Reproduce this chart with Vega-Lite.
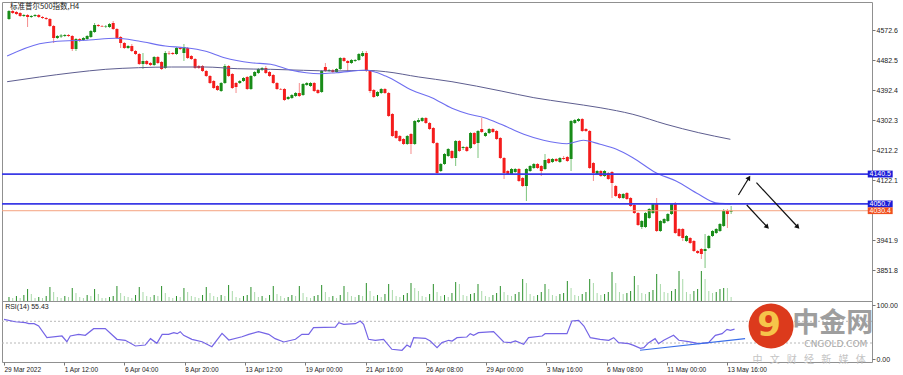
{
"$schema": "https://vega.github.io/schema/vega-lite/v6.json",
"background": "white",
"padding": {"left": 0, "top": 1, "right": 0, "bottom": 0},
"spacing": 0,
"bounds": "flush",
"config": {
  "view": {"stroke": "#909090", "strokeWidth": 1},
  "axis": {"labelFont": "Liberation Sans", "labelFontSize": 7, "labelColor": "#222222", "tickColor": "#777777", "tickSize": 3, "domain": false, "grid": false, "labelOverlap": false, "labelSeparation": 0}
},
"datasets": {
"candles": [
{"i":0,"o":4605.6,"h":4632.6,"l":4602.6,"c":4629.6,"v":4},
{"i":1,"o":4629.6,"h":4632.6,"l":4620.6,"c":4623.6,"v":3},
{"i":2,"o":4626.6,"h":4629.6,"l":4617.6,"c":4620.6,"v":5},
{"i":3,"o":4623.6,"h":4626.6,"l":4611.6,"c":4614.6,"v":3},
{"i":4,"o":4614.6,"h":4620.6,"l":4611.6,"c":4617.6,"v":6},
{"i":5,"o":4617.6,"h":4620.6,"l":4581.6,"c":4611.6,"v":12},
{"i":6,"o":4611.6,"h":4617.6,"l":4608.6,"c":4614.6,"v":7},
{"i":7,"o":4614.6,"h":4620.6,"l":4611.6,"c":4617.6,"v":3},
{"i":8,"o":4617.6,"h":4620.6,"l":4608.6,"c":4611.6,"v":4},
{"i":9,"o":4611.6,"h":4614.6,"l":4605.6,"c":4608.6,"v":3},
{"i":10,"o":4608.6,"h":4611.6,"l":4602.6,"c":4605.6,"v":5},
{"i":11,"o":4605.6,"h":4608.6,"l":4581.6,"c":4584.6,"v":14},
{"i":12,"o":4584.6,"h":4587.6,"l":4533.6,"c":4548.6,"v":9},
{"i":13,"o":4548.6,"h":4557.6,"l":4545.6,"c":4554.6,"v":4},
{"i":14,"o":4553.1,"h":4560.6,"l":4548.6,"c":4556.1,"v":3},
{"i":15,"o":4554.6,"h":4560.6,"l":4551.6,"c":4557.6,"v":5},
{"i":16,"o":4557.6,"h":4560.6,"l":4551.6,"c":4554.6,"v":4},
{"i":17,"o":4554.6,"h":4557.6,"l":4509.6,"c":4515.6,"v":13},
{"i":18,"o":4515.6,"h":4548.6,"l":4509.6,"c":4545.6,"v":8},
{"i":19,"o":4545.6,"h":4548.6,"l":4536.6,"c":4542.6,"v":4},
{"i":20,"o":4542.6,"h":4551.6,"l":4539.6,"c":4548.6,"v":3},
{"i":21,"o":4545.6,"h":4557.6,"l":4542.6,"c":4554.6,"v":6},
{"i":22,"o":4551.6,"h":4572.6,"l":4548.6,"c":4569.6,"v":5},
{"i":23,"o":4566.6,"h":4593.6,"l":4563.6,"c":4587.6,"v":12},
{"i":24,"o":4587.6,"h":4590.6,"l":4581.6,"c":4584.6,"v":7},
{"i":25,"o":4584.6,"h":4587.6,"l":4581.6,"c":4583.1,"v":3},
{"i":26,"o":4583.1,"h":4587.6,"l":4578.6,"c":4584.6,"v":3},
{"i":27,"o":4581.6,"h":4593.6,"l":4578.6,"c":4590.6,"v":4},
{"i":28,"o":4593.6,"h":4599.6,"l":4572.6,"c":4575.6,"v":5},
{"i":29,"o":4575.6,"h":4578.6,"l":4545.6,"c":4548.6,"v":15},
{"i":30,"o":4551.6,"h":4554.6,"l":4518.6,"c":4533.6,"v":8},
{"i":31,"o":4533.6,"h":4536.6,"l":4515.6,"c":4518.6,"v":5},
{"i":32,"o":4518.6,"h":4527.6,"l":4515.6,"c":4524.6,"v":4},
{"i":33,"o":4524.6,"h":4530.6,"l":4506.6,"c":4509.6,"v":3},
{"i":34,"o":4509.6,"h":4512.6,"l":4497.6,"c":4500.6,"v":6},
{"i":35,"o":4500.6,"h":4503.6,"l":4467.6,"c":4470.6,"v":14},
{"i":36,"o":4470.6,"h":4503.6,"l":4455.6,"c":4479.6,"v":9},
{"i":37,"o":4479.6,"h":4482.6,"l":4467.6,"c":4470.6,"v":5},
{"i":38,"o":4473.6,"h":4476.6,"l":4464.6,"c":4467.6,"v":4},
{"i":39,"o":4467.6,"h":4494.6,"l":4464.6,"c":4491.6,"v":6},
{"i":40,"o":4491.6,"h":4494.6,"l":4470.6,"c":4473.6,"v":5},
{"i":41,"o":4476.6,"h":4479.6,"l":4452.6,"c":4455.6,"v":15},
{"i":42,"o":4458.6,"h":4509.6,"l":4455.6,"c":4503.6,"v":8},
{"i":43,"o":4503.6,"h":4509.6,"l":4497.6,"c":4502.1,"v":4},
{"i":44,"o":4503.6,"h":4506.6,"l":4497.6,"c":4500.6,"v":3},
{"i":45,"o":4500.6,"h":4521.6,"l":4497.6,"c":4518.6,"v":5},
{"i":46,"o":4518.6,"h":4521.6,"l":4512.6,"c":4515.6,"v":4},
{"i":47,"o":4503.6,"h":4530.6,"l":4479.6,"c":4521.6,"v":13},
{"i":48,"o":4518.6,"h":4521.6,"l":4485.6,"c":4488.6,"v":9},
{"i":49,"o":4494.6,"h":4497.6,"l":4482.6,"c":4485.6,"v":5},
{"i":50,"o":4485.6,"h":4488.6,"l":4455.6,"c":4458.6,"v":4},
{"i":51,"o":4464.6,"h":4467.6,"l":4455.6,"c":4458.6,"v":3},
{"i":52,"o":4464.6,"h":4467.6,"l":4446.6,"c":4449.6,"v":6},
{"i":53,"o":4449.6,"h":4452.6,"l":4431.6,"c":4434.6,"v":14},
{"i":54,"o":4434.6,"h":4437.6,"l":4410.6,"c":4413.6,"v":8},
{"i":55,"o":4419.6,"h":4422.6,"l":4395.6,"c":4398.6,"v":5},
{"i":56,"o":4404.6,"h":4407.6,"l":4389.6,"c":4392.6,"v":4},
{"i":57,"o":4389.6,"h":4416.6,"l":4386.6,"c":4413.6,"v":6},
{"i":58,"o":4413.6,"h":4470.6,"l":4410.6,"c":4464.6,"v":5},
{"i":59,"o":4464.6,"h":4467.6,"l":4431.6,"c":4434.6,"v":16},
{"i":60,"o":4440.6,"h":4443.6,"l":4395.6,"c":4398.6,"v":10},
{"i":61,"o":4413.6,"h":4416.6,"l":4383.6,"c":4401.6,"v":4},
{"i":62,"o":4413.6,"h":4422.6,"l":4410.6,"c":4419.6,"v":3},
{"i":63,"o":4419.6,"h":4431.6,"l":4416.6,"c":4428.6,"v":5},
{"i":64,"o":4431.6,"h":4434.6,"l":4392.6,"c":4395.6,"v":6},
{"i":65,"o":4395.6,"h":4437.6,"l":4392.6,"c":4434.6,"v":14},
{"i":66,"o":4434.6,"h":4449.6,"l":4431.6,"c":4446.6,"v":9},
{"i":67,"o":4443.6,"h":4458.6,"l":4440.6,"c":4455.6,"v":4},
{"i":68,"o":4452.6,"h":4461.6,"l":4449.6,"c":4458.6,"v":5},
{"i":69,"o":4458.6,"h":4464.6,"l":4440.6,"c":4443.6,"v":3},
{"i":70,"o":4446.6,"h":4449.6,"l":4431.6,"c":4434.6,"v":6},
{"i":71,"o":4437.6,"h":4440.6,"l":4410.6,"c":4413.6,"v":15},
{"i":72,"o":4413.6,"h":4416.6,"l":4392.6,"c":4395.6,"v":7},
{"i":73,"o":4395.6,"h":4398.6,"l":4392.6,"c":4394.1,"v":5},
{"i":74,"o":4395.6,"h":4398.6,"l":4359.6,"c":4362.6,"v":3},
{"i":75,"o":4365.6,"h":4374.6,"l":4362.6,"c":4371.6,"v":4},
{"i":76,"o":4368.6,"h":4380.6,"l":4365.6,"c":4377.6,"v":6},
{"i":77,"o":4374.6,"h":4386.6,"l":4371.6,"c":4383.6,"v":5},
{"i":78,"o":4383.6,"h":4413.6,"l":4371.6,"c":4374.6,"v":15},
{"i":79,"o":4377.6,"h":4413.6,"l":4374.6,"c":4410.6,"v":8},
{"i":80,"o":4407.6,"h":4416.6,"l":4404.6,"c":4413.6,"v":4},
{"i":81,"o":4404.6,"h":4416.6,"l":4401.6,"c":4413.6,"v":3},
{"i":82,"o":4413.6,"h":4416.6,"l":4386.6,"c":4389.6,"v":5},
{"i":83,"o":4392.6,"h":4395.6,"l":4380.6,"c":4383.6,"v":6},
{"i":84,"o":4386.6,"h":4452.6,"l":4383.6,"c":4449.6,"v":16},
{"i":85,"o":4461.6,"h":4473.6,"l":4446.6,"c":4449.6,"v":9},
{"i":86,"o":4449.6,"h":4455.6,"l":4446.6,"c":4452.6,"v":4},
{"i":87,"o":4452.6,"h":4455.6,"l":4443.6,"c":4446.6,"v":5},
{"i":88,"o":4446.6,"h":4458.6,"l":4443.6,"c":4455.6,"v":3},
{"i":89,"o":4455.6,"h":4491.6,"l":4452.6,"c":4488.6,"v":6},
{"i":90,"o":4488.6,"h":4491.6,"l":4476.6,"c":4479.6,"v":15},
{"i":91,"o":4479.6,"h":4482.6,"l":4449.6,"c":4473.6,"v":9},
{"i":92,"o":4473.6,"h":4485.6,"l":4470.6,"c":4482.6,"v":5},
{"i":93,"o":4479.6,"h":4485.6,"l":4476.6,"c":4482.6,"v":4},
{"i":94,"o":4482.6,"h":4503.6,"l":4479.6,"c":4500.6,"v":6},
{"i":95,"o":4494.6,"h":4509.6,"l":4491.6,"c":4503.6,"v":5},
{"i":96,"o":4503.6,"h":4509.6,"l":4446.6,"c":4449.6,"v":18},
{"i":97,"o":4449.6,"h":4452.6,"l":4383.6,"c":4389.6,"v":10},
{"i":98,"o":4392.6,"h":4395.6,"l":4368.6,"c":4371.6,"v":5},
{"i":99,"o":4374.6,"h":4389.6,"l":4371.6,"c":4386.6,"v":6},
{"i":100,"o":4383.6,"h":4398.6,"l":4380.6,"c":4395.6,"v":4},
{"i":101,"o":4395.6,"h":4398.6,"l":4380.6,"c":4383.6,"v":7},
{"i":102,"o":4383.6,"h":4386.6,"l":4311.6,"c":4314.6,"v":17},
{"i":103,"o":4320.6,"h":4323.6,"l":4251.6,"c":4254.6,"v":11},
{"i":104,"o":4269.6,"h":4272.6,"l":4245.6,"c":4248.6,"v":5},
{"i":105,"o":4254.6,"h":4257.6,"l":4236.6,"c":4239.6,"v":4},
{"i":106,"o":4245.6,"h":4248.6,"l":4227.6,"c":4230.6,"v":6},
{"i":107,"o":4230.6,"h":4257.6,"l":4227.6,"c":4254.6,"v":8},
{"i":108,"o":4260.6,"h":4263.6,"l":4200.6,"c":4230.6,"v":18},
{"i":109,"o":4230.6,"h":4302.6,"l":4227.6,"c":4299.6,"v":13},
{"i":110,"o":4296.6,"h":4308.6,"l":4293.6,"c":4302.6,"v":10},
{"i":111,"o":4299.6,"h":4311.6,"l":4296.6,"c":4308.6,"v":5},
{"i":112,"o":4308.6,"h":4311.6,"l":4290.6,"c":4293.6,"v":4},
{"i":113,"o":4293.6,"h":4296.6,"l":4272.6,"c":4275.6,"v":7},
{"i":114,"o":4278.6,"h":4281.6,"l":4230.6,"c":4233.6,"v":17},
{"i":115,"o":4233.6,"h":4236.6,"l":4140.6,"c":4143.6,"v":9},
{"i":116,"o":4149.6,"h":4173.6,"l":4146.6,"c":4170.6,"v":5},
{"i":117,"o":4170.6,"h":4203.6,"l":4167.6,"c":4200.6,"v":6},
{"i":118,"o":4194.6,"h":4218.6,"l":4191.6,"c":4215.6,"v":4},
{"i":119,"o":4209.6,"h":4212.6,"l":4185.6,"c":4188.6,"v":8},
{"i":120,"o":4188.6,"h":4242.6,"l":4164.6,"c":4239.6,"v":19},
{"i":121,"o":4239.6,"h":4242.6,"l":4206.6,"c":4209.6,"v":17},
{"i":122,"o":4218.6,"h":4224.6,"l":4212.6,"c":4221.6,"v":6},
{"i":123,"o":4221.6,"h":4224.6,"l":4206.6,"c":4209.6,"v":5},
{"i":124,"o":4218.6,"h":4266.6,"l":4215.6,"c":4263.6,"v":7},
{"i":125,"o":4263.6,"h":4266.6,"l":4227.6,"c":4230.6,"v":8},
{"i":126,"o":4233.6,"h":4272.6,"l":4188.6,"c":4269.6,"v":17},
{"i":127,"o":4275.6,"h":4308.6,"l":4263.6,"c":4266.6,"v":10},
{"i":128,"o":4254.6,"h":4266.6,"l":4251.6,"c":4263.6,"v":5},
{"i":129,"o":4263.6,"h":4278.6,"l":4260.6,"c":4275.6,"v":4},
{"i":130,"o":4275.6,"h":4278.6,"l":4263.6,"c":4266.6,"v":6},
{"i":131,"o":4269.6,"h":4272.6,"l":4242.6,"c":4245.6,"v":8},
{"i":132,"o":4248.6,"h":4251.6,"l":4185.6,"c":4188.6,"v":15},
{"i":133,"o":4188.6,"h":4191.6,"l":4125.6,"c":4143.6,"v":9},
{"i":134,"o":4149.6,"h":4152.6,"l":4137.6,"c":4140.6,"v":6},
{"i":135,"o":4140.6,"h":4158.6,"l":4137.6,"c":4155.6,"v":5},
{"i":136,"o":4146.6,"h":4158.6,"l":4143.6,"c":4155.6,"v":7},
{"i":137,"o":4155.6,"h":4158.6,"l":4116.6,"c":4119.6,"v":9},
{"i":138,"o":4128.6,"h":4131.6,"l":4101.6,"c":4104.6,"v":22},
{"i":139,"o":4104.6,"h":4158.6,"l":4059.6,"c":4155.6,"v":18},
{"i":140,"o":4149.6,"h":4167.6,"l":4146.6,"c":4164.6,"v":7},
{"i":141,"o":4158.6,"h":4173.6,"l":4155.6,"c":4170.6,"v":5},
{"i":142,"o":4170.6,"h":4173.6,"l":4155.6,"c":4158.6,"v":6},
{"i":143,"o":4164.6,"h":4167.6,"l":4134.6,"c":4149.6,"v":9},
{"i":144,"o":4155.6,"h":4200.6,"l":4152.6,"c":4182.6,"v":17},
{"i":145,"o":4185.6,"h":4188.6,"l":4170.6,"c":4173.6,"v":12},
{"i":146,"o":4176.6,"h":4188.6,"l":4173.6,"c":4185.6,"v":6},
{"i":147,"o":4185.6,"h":4188.6,"l":4176.6,"c":4179.6,"v":5},
{"i":148,"o":4176.6,"h":4191.6,"l":4173.6,"c":4188.6,"v":7},
{"i":149,"o":4188.6,"h":4194.6,"l":4182.6,"c":4185.6,"v":8},
{"i":150,"o":4191.6,"h":4194.6,"l":4176.6,"c":4179.6,"v":20},
{"i":151,"o":4185.6,"h":4302.6,"l":4149.6,"c":4299.6,"v":13},
{"i":152,"o":4293.6,"h":4305.6,"l":4290.6,"c":4302.6,"v":6},
{"i":153,"o":4299.6,"h":4308.6,"l":4296.6,"c":4305.6,"v":5},
{"i":154,"o":4305.6,"h":4308.6,"l":4266.6,"c":4269.6,"v":7},
{"i":155,"o":4275.6,"h":4278.6,"l":4266.6,"c":4269.6,"v":9},
{"i":156,"o":4269.6,"h":4272.6,"l":4155.6,"c":4158.6,"v":22},
{"i":157,"o":4173.6,"h":4176.6,"l":4119.6,"c":4143.6,"v":18},
{"i":158,"o":4140.6,"h":4152.6,"l":4137.6,"c":4149.6,"v":8},
{"i":159,"o":4149.6,"h":4152.6,"l":4131.6,"c":4134.6,"v":6},
{"i":160,"o":4134.6,"h":4152.6,"l":4131.6,"c":4149.6,"v":7},
{"i":161,"o":4143.6,"h":4146.6,"l":4122.6,"c":4125.6,"v":9},
{"i":162,"o":4146.6,"h":4149.6,"l":4068.6,"c":4113.6,"v":29},
{"i":163,"o":4104.6,"h":4107.6,"l":4071.6,"c":4074.6,"v":18},
{"i":164,"o":4080.6,"h":4083.6,"l":4065.6,"c":4068.6,"v":9},
{"i":165,"o":4068.6,"h":4083.6,"l":4065.6,"c":4080.6,"v":7},
{"i":166,"o":4083.6,"h":4086.6,"l":4062.6,"c":4065.6,"v":8},
{"i":167,"o":4068.6,"h":4071.6,"l":4041.6,"c":4044.6,"v":10},
{"i":168,"o":4047.6,"h":4050.6,"l":4020.6,"c":4023.6,"v":25},
{"i":169,"o":4023.6,"h":4026.6,"l":3984.6,"c":3987.6,"v":16},
{"i":170,"o":3981.6,"h":4002.6,"l":3975.6,"c":3999.6,"v":8},
{"i":171,"o":3981.6,"h":4026.6,"l":3978.6,"c":4023.6,"v":7},
{"i":172,"o":4008.6,"h":4038.6,"l":4005.6,"c":4035.6,"v":9},
{"i":173,"o":4023.6,"h":4053.6,"l":4020.6,"c":4050.6,"v":11},
{"i":174,"o":4050.6,"h":4068.6,"l":3966.6,"c":3969.6,"v":27},
{"i":175,"o":3969.6,"h":4002.6,"l":3966.6,"c":3999.6,"v":17},
{"i":176,"o":3993.6,"h":4008.6,"l":3990.6,"c":4005.6,"v":9},
{"i":177,"o":3999.6,"h":4023.6,"l":3996.6,"c":4020.6,"v":8},
{"i":178,"o":4020.6,"h":4053.6,"l":4017.6,"c":4050.6,"v":10},
{"i":179,"o":4050.6,"h":4056.6,"l":3960.6,"c":3963.6,"v":12},
{"i":180,"o":3975.6,"h":3978.6,"l":3951.6,"c":3954.6,"v":30},
{"i":181,"o":3975.6,"h":3978.6,"l":3939.6,"c":3948.6,"v":22},
{"i":182,"o":3939.6,"h":3957.6,"l":3936.6,"c":3954.6,"v":9},
{"i":183,"o":3948.6,"h":3951.6,"l":3930.6,"c":3933.6,"v":7},
{"i":184,"o":3939.6,"h":3942.6,"l":3906.6,"c":3909.6,"v":10},
{"i":185,"o":3909.6,"h":3912.6,"l":3900.6,"c":3903.6,"v":12},
{"i":186,"o":3915.6,"h":3918.6,"l":3885.6,"c":3900.6,"v":30},
{"i":187,"o":3909.6,"h":3960.6,"l":3858.6,"c":3915.6,"v":22},
{"i":188,"o":3918.6,"h":3957.6,"l":3915.6,"c":3954.6,"v":10},
{"i":189,"o":3954.6,"h":3972.6,"l":3951.6,"c":3969.6,"v":8},
{"i":190,"o":3963.6,"h":3978.6,"l":3960.6,"c":3975.6,"v":9},
{"i":191,"o":3969.6,"h":3993.6,"l":3966.6,"c":3990.6,"v":12},
{"i":192,"o":3984.6,"h":4035.6,"l":3981.6,"c":4029.6,"v":13},
{"i":193,"o":4029.6,"h":4035.6,"l":3978.6,"c":4020.6,"v":13},
{"i":194,"o":4027.6,"h":4044.6,"l":4020.6,"c":4030.4,"v":4}
],
"ma": [
{"s":"fast","i":-0.5,"p":4494.6},{"s":"fast","i":8.2,"p":4531.5},{"s":"fast","i":11.9,"p":4537.5},{"s":"fast","i":21.5,"p":4542.6},{"s":"fast","i":28.7,"p":4547.7},{"s":"fast","i":34.8,"p":4539.6},{"s":"fast","i":42,"p":4524.6},{"s":"fast","i":47.3,"p":4519.5},{"s":"fast","i":52.6,"p":4509.6},{"s":"fast","i":57.9,"p":4489.5},{"s":"fast","i":65,"p":4474.5},{"s":"fast","i":70.3,"p":4469.7},{"s":"fast","i":75.6,"p":4452.6},{"s":"fast","i":83.6,"p":4441.5},{"s":"fast","i":87.9,"p":4444.5},{"s":"fast","i":95.9,"p":4451.7},{"s":"fast","i":101.2,"p":4434.6},{"s":"fast","i":108.3,"p":4391.7},{"s":"fast","i":113.6,"p":4369.5},{"s":"fast","i":119,"p":4337.7},{"s":"fast","i":123.4,"p":4320.6},{"s":"fast","i":127.7,"p":4309.5},{"s":"fast","i":132.2,"p":4289.7},{"s":"fast","i":138.3,"p":4259.7},{"s":"fast","i":143.6,"p":4241.7},{"s":"fast","i":149.9,"p":4231.5},{"s":"fast","i":154.3,"p":4241.7},{"s":"fast","i":158.8,"p":4229.7},{"s":"fast","i":163.2,"p":4214.7},{"s":"fast","i":167.6,"p":4189.5},{"s":"fast","i":173.8,"p":4144.5},{"s":"fast","i":179.2,"p":4119.6},{"s":"fast","i":185.3,"p":4079.7},{"s":"fast","i":189.8,"p":4054.5},{"s":"fast","i":192.8,"p":4051.5},{"s":"fast","i":194,"p":4051},
{"s":"slow","i":-0.5,"p":4417.5},{"s":"slow","i":8.2,"p":4431.6},{"s":"slow","i":17.2,"p":4444.5},{"s":"slow","i":26,"p":4454.7},{"s":"slow","i":34.8,"p":4459.5},{"s":"slow","i":43.7,"p":4461.6},{"s":"slow","i":52.6,"p":4461.6},{"s":"slow","i":61.3,"p":4456.5},{"s":"slow","i":70.3,"p":4454.7},{"s":"slow","i":79.1,"p":4451.7},{"s":"slow","i":87.9,"p":4449.6},{"s":"slow","i":95.9,"p":4451.7},{"s":"slow","i":101.2,"p":4447.5},{"s":"slow","i":110.1,"p":4431.6},{"s":"slow","i":119,"p":4417.5},{"s":"slow","i":132.2,"p":4389.6},{"s":"slow","i":141,"p":4369.5},{"s":"slow","i":149.9,"p":4354.5},{"s":"slow","i":158.8,"p":4339.5},{"s":"slow","i":167.6,"p":4319.7},{"s":"slow","i":176.5,"p":4289.7},{"s":"slow","i":185.3,"p":4264.5},{"s":"slow","i":193.8,"p":4244.7}
],
"levels": [
{"v":4140.5,"k":"level"},{"v":4050.7,"k":"level"},{"v":4030.4,"k":"bid"}
],
"arrows": [
{"a":1,"e":0,"i":195.96,"p":4077.6},{"a":1,"e":1,"i":198.8,"p":4129.5},
{"a":2,"e":0,"i":200.8,"p":4114.5},{"a":2,"e":1,"i":211.9,"p":3981.6},
{"a":3,"e":0,"i":198.2,"p":4047.6},{"a":3,"e":1,"i":203.7,"p":3981.6}
],
"rsi": [
{"i":0,"v":73.7},{"i":3,"v":69.2},{"i":5.7,"v":67.4},{"i":6.6,"v":65.6},{"i":8,"v":65.6},{"i":9.2,"v":61.3},{"i":11.4,"v":39.8},{"i":15.4,"v":42.9},{"i":16.7,"v":32.4},{"i":17.6,"v":42.9},{"i":19.8,"v":46},{"i":21.6,"v":44.2},{"i":23.8,"v":56.4},{"i":26.9,"v":56.4},{"i":30,"v":36.8},{"i":32.2,"v":35},{"i":34.9,"v":24.5},{"i":37.5,"v":26.3},{"i":38.9,"v":38},{"i":40.6,"v":29.4},{"i":42,"v":46},{"i":43.7,"v":46},{"i":45.1,"v":49},{"i":46,"v":47.2},{"i":46.8,"v":50.9},{"i":47.7,"v":44.2},{"i":49.9,"v":36.8},{"i":52.6,"v":32.4},{"i":55.2,"v":23.2},{"i":57.9,"v":47.9},{"i":59.7,"v":35.6},{"i":63.2,"v":41.6},{"i":65,"v":46},{"i":67.6,"v":50.9},{"i":70.3,"v":46},{"i":72,"v":38},{"i":74.3,"v":31.9},{"i":77.4,"v":36.8},{"i":79.1,"v":46},{"i":80.9,"v":46},{"i":82.2,"v":58.2},{"i":88,"v":59.3},{"i":88.9,"v":67.4},{"i":90.2,"v":64.4},{"i":93.3,"v":65.6},{"i":94.6,"v":70.5},{"i":95.5,"v":64.4},{"i":96.8,"v":36.8},{"i":98.6,"v":35},{"i":100.8,"v":36.8},{"i":103,"v":18.4},{"i":105.7,"v":16.6},{"i":107,"v":26.3},{"i":107.9,"v":22.6},{"i":108.8,"v":39.8},{"i":111.9,"v":38.6},{"i":113.2,"v":33.7},{"i":115,"v":21.4},{"i":116.3,"v":30.7},{"i":118.1,"v":35},{"i":119,"v":33.7},{"i":120.3,"v":39.8},{"i":122.9,"v":41},{"i":123.8,"v":47.2},{"i":124.7,"v":44.2},{"i":126,"v":49},{"i":130,"v":50.9},{"i":132.7,"v":31.9},{"i":134.5,"v":30.7},{"i":135.8,"v":33.7},{"i":138,"v":27.6},{"i":139.3,"v":39.8},{"i":142.9,"v":42.9},{"i":143.7,"v":47.2},{"i":149.5,"v":47.2},{"i":150.8,"v":70.5},{"i":152.6,"v":71.7},{"i":154,"v":61.3},{"i":155.7,"v":39.8},{"i":158.3,"v":36.8},{"i":160.6,"v":35},{"i":161.9,"v":39.8},{"i":163.2,"v":30.7},{"i":165.9,"v":28.8},{"i":167.2,"v":25.7},{"i":169,"v":20.2},{"i":169.9,"v":21.4},{"i":171.2,"v":30.7},{"i":172.9,"v":38},{"i":173.8,"v":28.8},{"i":175.2,"v":35},{"i":177.8,"v":44.2},{"i":179.2,"v":35},{"i":181.8,"v":32.4},{"i":184.5,"v":28.8},{"i":187.1,"v":30.7},{"i":188.9,"v":44.2},{"i":190.7,"v":47.2},{"i":192,"v":55.2},{"i":192.9,"v":53.4},{"i":194,"v":55.43}
],
"rsitrend": [
{"i":168.9,"v":16.6},{"i":196.8,"v":37.9}
]
},
"vconcat": [
{
  "width": 870,
  "height": 299,
  "layer": [
    {
      "data": {"name": "candles"},
      "transform": [{"window": [{"op": "lag", "field": "v", "as": "pv"}], "sort": [{"field": "i"}]}],
      "mark": {"type": "bar", "size": 1},
      "encoding": {
        "x": {"field": "i", "type": "quantitative", "scale": {"domain": [-0.53, 230.5], "nice": false, "zero": false}, "axis": null},
        "y": {"field": "v", "type": "quantitative", "scale": {"domain": [0, 299], "nice": false}, "axis": null},
        "color": {"condition": {"test": "datum.v > datum.pv", "value": "#2a8f2a"}, "value": "#a9d9a9"}
      }
    },
    {
      "layer": [
        {
          "data": {"name": "candles"},
          "mark": {"type": "rule", "strokeWidth": 1},
          "encoding": {
            "x": {"field": "i", "type": "quantitative", "scale": {"domain": [-0.53, 230.5], "nice": false, "zero": false}, "axis": null},
            "y": {"field": "l", "type": "quantitative", "scale": {"domain": [3759.6, 4656.6], "nice": false, "zero": false},
                  "axis": {"orient": "right", "values": [3851.8, 3941.9, 4122.1, 4212.2, 4302.3, 4392.4, 4482.5, 4572.6], "format": ".1f", "title": null, "labelOverlap": false, "labelSeparation": 0, "labelPadding": 1}},
            "y2": {"field": "h"},
            "color": {"condition": {"test": "datum.c >= datum.o", "value": "#7cc47c"}, "value": "#f58c8c"}
          }
        },
        {
          "data": {"name": "candles"},
          "mark": {"type": "bar", "size": 3},
          "encoding": {
            "x": {"field": "i", "type": "quantitative", "axis": null},
            "y": {"field": "o", "type": "quantitative"},
            "y2": {"field": "c"},
            "color": {"condition": {"test": "datum.c >= datum.o", "value": "#188c18"}, "value": "#f41c1c"}
          }
        },
        {
          "data": {"name": "ma"},
          "transform": [{"filter": "datum.s == 'slow'"}],
          "mark": {"type": "line", "color": "#5e5e90", "strokeWidth": 1, "interpolate": "monotone"},
          "encoding": {
            "x": {"field": "i", "type": "quantitative", "axis": null},
            "y": {"field": "p", "type": "quantitative"},
            "order": {"field": "i"}
          }
        },
        {
          "data": {"name": "ma"},
          "transform": [{"filter": "datum.s == 'fast'"}],
          "mark": {"type": "line", "color": "#6e6ef0", "strokeWidth": 1.1, "interpolate": "monotone"},
          "encoding": {
            "x": {"field": "i", "type": "quantitative", "axis": null},
            "y": {"field": "p", "type": "quantitative"},
            "order": {"field": "i"}
          }
        },
        {
          "data": {"name": "levels"},
          "transform": [{"filter": "datum.k == 'bid'"}],
          "mark": {"type": "rule", "color": "#f5a27e", "strokeWidth": 1},
          "encoding": {"y": {"field": "v", "type": "quantitative"}}
        },
        {
          "data": {"name": "levels"},
          "transform": [{"filter": "datum.k == 'level'"}],
          "mark": {"type": "rule", "color": "#3a3ae6", "strokeWidth": 1.8},
          "encoding": {"y": {"field": "v", "type": "quantitative"}}
        },
        {
          "data": {"name": "arrows"},
          "mark": {"type": "line", "color": "#111111", "strokeWidth": 1.2},
          "encoding": {
            "x": {"field": "i", "type": "quantitative", "axis": null},
            "y": {"field": "p", "type": "quantitative"},
            "detail": {"field": "a"},
            "order": {"field": "e"}
          }
        },
        {
          "data": {"name": "arrows"},
          "transform": [{"filter": "datum.e == 1 && datum.a == 1"}],
          "mark": {"type": "point", "shape": "triangle-up", "filled": true, "color": "#111111", "size": 30, "angle": 32, "opacity": 1},
          "encoding": {
            "x": {"field": "i", "type": "quantitative", "axis": null},
            "y": {"field": "p", "type": "quantitative"}
          }
        },
        {
          "data": {"name": "arrows"},
          "transform": [{"filter": "datum.e == 1 && datum.a != 1"}],
          "mark": {"type": "point", "shape": "triangle-up", "filled": true, "color": "#111111", "size": 30, "angle": 136.5, "opacity": 1},
          "encoding": {
            "x": {"field": "i", "type": "quantitative", "axis": null},
            "y": {"field": "p", "type": "quantitative"}
          }
        },
        {
          "data": {"name": "levels"},
          "transform": [{"filter": "datum.k == 'level'"}, {"calculate": "datum.v + 10.3", "as": "t"}, {"calculate": "datum.v - 10.3", "as": "b"}],
          "mark": {"type": "rect", "color": "#1c1cd8"},
          "encoding": {
            "x": {"datum": 230.7, "axis": null}, "x2": {"datum": 237.4},
            "y": {"field": "t", "type": "quantitative"}, "y2": {"field": "b"}
          }
        },
        {
          "data": {"name": "levels"},
          "transform": [{"filter": "datum.k == 'bid'"}, {"calculate": "datum.v + 10.1", "as": "t"}, {"calculate": "datum.v - 10.1", "as": "b"}],
          "mark": {"type": "rect", "color": "#f0501e"},
          "encoding": {
            "x": {"datum": 230.7, "axis": null}, "x2": {"datum": 237.4},
            "y": {"field": "t", "type": "quantitative"}, "y2": {"field": "b"}
          }
        },
        {
          "data": {"name": "levels"},
          "mark": {"type": "text", "color": "white", "font": "Liberation Sans", "fontSize": 7, "align": "center", "baseline": "middle"},
          "encoding": {
            "x": {"datum": 234.05, "axis": null},
            "y": {"field": "v", "type": "quantitative"},
            "text": {"field": "v", "type": "quantitative", "format": ".1f"}
          }
        },
        {
          "data": {"values": [{}]},
          "mark": {"type": "text", "text": "标准普尔500指数,H4", "font": "Noto Sans CJK SC", "fontSize": 7.5, "align": "left", "baseline": "middle", "color": "#222222"},
          "encoding": {"x": {"datum": 0.3, "axis": null}, "y": {"datum": 4641.6}}
        }
      ]
    }
  ],
  "resolve": {"scale": {"y": "independent"}}
},
{
  "width": 870,
  "height": 61,
  "layer": [
    {
      "data": {"values": [{"g": 30}, {"g": 70}]},
      "mark": {"type": "rule", "color": "#b8b8b8", "strokeDash": [2, 2], "strokeWidth": 1},
      "encoding": {
        "y": {"field": "g", "type": "quantitative", "scale": {"domain": [-5, 107.4], "nice": false, "zero": false},
              "axis": {"orient": "right", "values": [0, 30, 70, 100], "format": ".2f", "title": null, "labelOverlap": false, "labelSeparation": 0, "labelPadding": 1}}
      }
    },
    {
      "data": {"name": "rsi"},
      "mark": {"type": "line", "color": "#7565e6", "strokeWidth": 1.2},
      "encoding": {
        "x": {"field": "i", "type": "quantitative", "scale": {"domain": [-0.53, 230.5], "nice": false, "zero": false},
              "axis": {"orient": "bottom", "values": [0, 16, 32, 48, 64, 80, 96, 112, 128, 144, 160, 176, 192], "title": null, "labelAlign": "left", "labelPadding": 1, "labelFontSize": 6.5, "labelOverlap": false, "labelFlush": false, "labelBound": false,
                       "labelExpr": "['29 Mar 2022','1 Apr 12:00','6 Apr 04:00','8 Apr 20:00','13 Apr 12:00','19 Apr 00:00','21 Apr 16:00','26 Apr 08:00','29 Apr 00:00','3 May 16:00','6 May 08:00','11 May 00:00','13 May 16:00'][round(datum.value / 16)]"}},
        "y": {"field": "v", "type": "quantitative"},
        "order": {"field": "i"}
      }
    },
    {
      "data": {"name": "rsitrend"},
      "mark": {"type": "line", "color": "#3a6ee8", "strokeWidth": 1.2},
      "encoding": {
        "x": {"field": "i", "type": "quantitative"},
        "y": {"field": "v", "type": "quantitative"}
      }
    },
    {
      "data": {"values": [{}]},
      "mark": {"type": "text", "text": "RSI(14) 55.43", "font": "Liberation Sans", "fontSize": 7, "align": "left", "baseline": "middle", "color": "#222222"},
      "encoding": {"x": {"datum": 0.3}, "y": {"datum": 97.2}}
    },
    {
      "data": {"values": [{}]},
      "mark": {"type": "point", "shape": "circle", "filled": true, "color": "#dc3a1c", "size": 2025, "opacity": 1},
      "encoding": {"x": {"datum": 203.7}, "y": {"datum": 61.3}}
    },
    {
      "data": {"values": [{}]},
      "mark": {"type": "text", "text": "9", "font": "DejaVu Sans", "fontWeight": "bold", "fontSize": 34, "align": "center", "baseline": "middle", "color": "#f6c44a"},
      "encoding": {"x": {"datum": 203.2}, "y": {"datum": 62}}
    },
    {
      "data": {"values": [{}]},
      "mark": {"type": "text", "text": "中金网", "font": "Noto Sans CJK SC", "fontWeight": "bold", "fontSize": 27, "align": "center", "baseline": "middle", "color": "#9e9e9e"},
      "encoding": {"x": {"datum": 220.1}, "y": {"datum": 64.5}}
    },
    {
      "data": {"values": [{}]},
      "mark": {"type": "text", "text": "CNGOLD.COM", "font": "DejaVu Sans", "fontSize": 9, "align": "center", "baseline": "middle", "color": "#a8a8a8"},
      "encoding": {"x": {"datum": 220.9}, "y": {"datum": 27.3}}
    },
    {
      "data": {"values": [{}]},
      "mark": {"type": "text", "text": "中 \u2002文 \u2002财 \u2002经 \u2002新 \u2002媒 \u2002体", "font": "Noto Sans CJK SC", "fontSize": 10, "align": "center", "baseline": "middle", "color": "#c4c4c4"},
      "encoding": {"x": {"datum": 213.8}, "y": {"datum": -0.4}}
    }
  ]
}
]
}
